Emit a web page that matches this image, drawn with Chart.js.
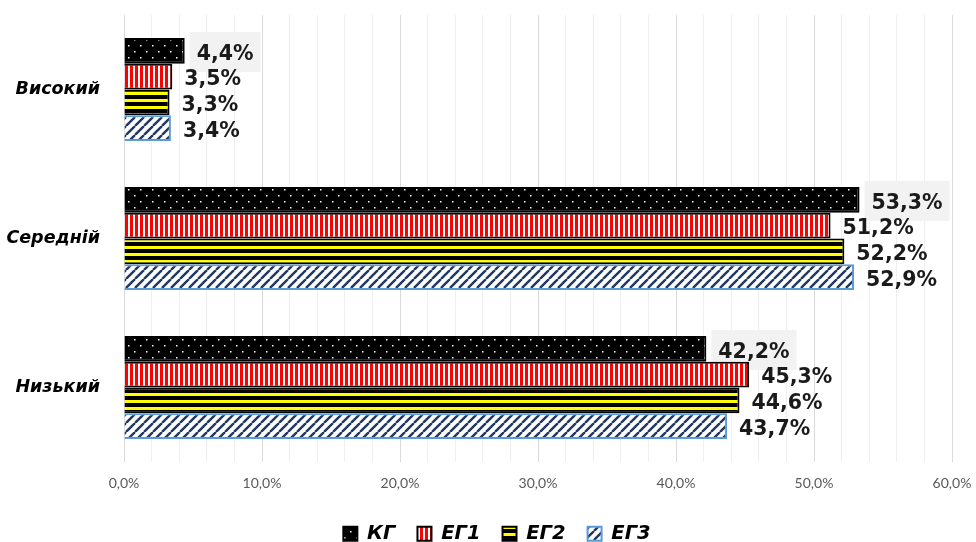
<!DOCTYPE html>
<html>
<head>
<meta charset="utf-8">
<script src="https://cdn.jsdelivr.net/npm/chart.js@4.4.1/dist/chart.umd.min.js"></script>
<style>
  html, body { margin: 0; padding: 0; background: #fff; }
  #wrap { width: 976px; height: 542px; }
</style>
</head>
<body>
<div id="wrap"><canvas id="myChart" width="976" height="542"></canvas></div>
<script>
// data
var categories = ['Високий', 'Середній', 'Низький'];
var seriesNames = ['КГ', 'ЕГ1', 'ЕГ2', 'ЕГ3'];
var kgValues = [4.4, 53.3, 42.2];
var eg1Values = [3.5, 51.2, 45.3];
var eg2Values = [3.3, 52.2, 44.6];
var eg3Values = [3.4, 52.9, 43.7];

// fill patterns
function makePattern(w, h, paint) {
	var c = document.createElement('canvas');
	c.width = w;
	c.height = h;
	var g = c.getContext('2d');
	paint(g, w, h);
	return g.createPattern(c, 'repeat');
}

var dots = makePattern(12, 12, function(g, w, h) {
	g.fillStyle = '#000';
	g.fillRect(0, 0, w, h);
	g.fillStyle = '#fff';
	g.fillRect(2, 3, 1.5, 1.5);
	g.fillRect(8, 9, 1.5, 1.5);
});
var redStripes = makePattern(5, 5, function(g, w, h) {
	g.fillStyle = '#ff0000';
	g.fillRect(0, 0, w, h);
	g.fillStyle = '#fff';
	g.fillRect(3, 0, 2, h);
});
var yellowStripes = makePattern(7, 7, function(g, w, h) {
	g.fillStyle = '#000';
	g.fillRect(0, 0, w, h);
	g.fillStyle = '#ffff00';
	g.fillRect(0, 1, w, 3);
});
var blueDiag = makePattern(9, 9, function(g, w, h) {
	g.fillStyle = '#fff';
	g.fillRect(0, 0, w, h);
	g.strokeStyle = '#1f3864';
	g.lineWidth = 2.4;
	g.beginPath();
	for (var k = -1; k <= 1; k++) {
		g.moveTo(k * w, h);
		g.lineTo(k * w + w, 0);
	}
	g.stroke();
});

function labelText(v) {
	return v.toFixed(1).replace('.', ',') + '%';
}
var labelFont = 'bold 20.5px "DejaVu Sans"';

// value labels next to bars (grey box behind the first series)
var valueLabels = {
	id: 'valueLabels',
	beforeDatasetsDraw: function(chart) {
		var ctx = chart.ctx;
		ctx.save();
		ctx.font = labelFont;
		ctx.fillStyle = '#f2f2f2';
		chart.getDatasetMeta(0).data.forEach(function(bar, j) {
			var w = ctx.measureText(labelText(chart.data.datasets[0].data[j])).width;
			ctx.fillRect(bar.x + 5, bar.y + 2 - 21, w + 14, 40);
		});
		ctx.restore();
	},
	afterDatasetsDraw: function(chart) {
		var ctx = chart.ctx;
		ctx.save();
		ctx.font = labelFont;
		ctx.textBaseline = 'alphabetic';
		ctx.textAlign = 'left';
		ctx.fillStyle = '#1a1a1a';
		chart.data.datasets.forEach(function(ds, i) {
			chart.getDatasetMeta(i).data.forEach(function(bar, j) {
				var mid = bar.y + (i === 0 ? 2 : 1);
				ctx.fillText(labelText(ds.data[j]), bar.x + 12, mid + 7.5);
			});
		});
		ctx.restore();
	}
};

// nudge legend to the right like in the original
var legendShift = {
	id: 'legendShift',
	afterLayout: function(chart) {
		var lg = chart.legend;
		lg.left += 21;
		lg.right += 21;
	}
};

var ctx = document.getElementById('myChart').getContext('2d');
var myChart = new Chart(ctx, {
	type: 'bar',
	data: {
		labels: categories,
		datasets: [
			{ label: seriesNames[0], data: kgValues, backgroundColor: dots, borderColor: '#000', borderWidth: 2 },
			{ label: seriesNames[1], data: eg1Values, backgroundColor: redStripes, borderColor: '#000', borderWidth: 2 },
			{ label: seriesNames[2], data: eg2Values, backgroundColor: yellowStripes, borderColor: '#000', borderWidth: 2 },
			{ label: seriesNames[3], data: eg3Values, backgroundColor: blueDiag, borderColor: '#5b9bd5', borderWidth: 2 }
		]
	},
	options: {
		indexAxis: 'y',
		responsive: false,
		animation: false,
		categoryPercentage: 0.69,
		barPercentage: 1,
		layout: { padding: { top: 15, right: 24, bottom: 0, left: 0 } },
		scales: {
			x: {
				min: 0,
				max: 60,
				ticks: {
					stepSize: 2,
					autoSkip: false,
					maxRotation: 0,
					padding: 13,
					color: '#595959',
					font: { family: 'Lato', size: 14 },
					callback: function(v) {
						return v % 10 === 0 ? labelText(v) : '';
					}
				},
				grid: {
					drawTicks: false,
					color: function(c) {
						return c.tick && c.tick.value % 10 === 0 ? '#d9d9d9' : '#efefef';
					},
					lineWidth: 1
				},
				border: { display: false },
				afterFit: function(scale) {
					scale.height = 40;
					scale.paddingLeft = 0;
					scale.paddingRight = 0;
				}
			},
			y: {
				ticks: {
					padding: 16,
					color: '#000',
					font: { family: 'DejaVu Sans', size: 17.5, weight: 'bold', style: 'italic' }
				},
				grid: { display: false },
				border: { display: false },
				afterFit: function(scale) {
					scale.width = 124;
					scale.paddingTop = 0;
					scale.paddingBottom = 0;
				}
			}
		},
		plugins: {
			legend: {
				position: 'bottom',
				maxHeight: 40,
				labels: {
					boxWidth: 14,
					boxHeight: 14,
					padding: 22,
					color: '#000',
					font: { family: 'DejaVu Sans', size: 19.5, weight: 'bold', style: 'italic' }
				}
			},
			tooltip: { enabled: false }
		}
	},
	plugins: [valueLabels, legendShift]
});
</script>
</body>
</html>
